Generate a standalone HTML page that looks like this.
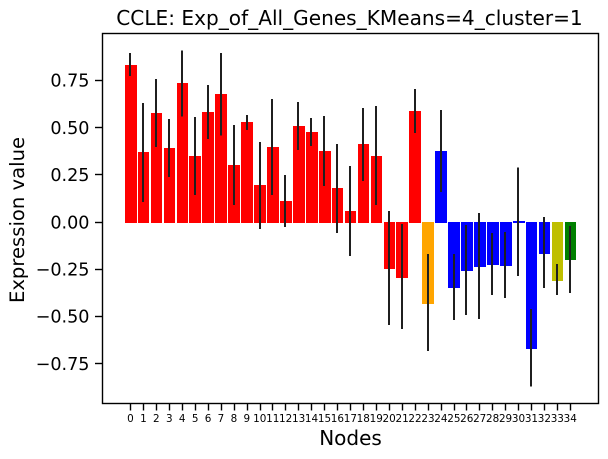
<!DOCTYPE html>
<html lang="en">
<head>
<meta charset="utf-8">
<title>CCLE chart</title>
<style>
html,body{margin:0;padding:0;background:#fff;width:608px;height:459px;overflow:hidden}
svg{display:block}
text{font-family:"DejaVu Sans","Liberation Sans",sans-serif;fill:#000}
</style>
</head>
<body>
<svg id="chart" width="608" height="459" viewBox="0 0 608 459" xmlns="http://www.w3.org/2000/svg">
<rect x="102" y="33" width="497" height="370" fill="#fff"/>
<g id="bars"></g>
<g id="errors"></g>
<rect x="102.5" y="33.5" width="496" height="370" fill="none" stroke="#000" stroke-width="1.4"/>
<g id="xticks"></g>
<g id="yticks"></g>
<text x="349.5" y="25" font-size="20.1" text-anchor="middle">CCLE: Exp_of_All_Genes_KMeans=4_cluster=1</text>
<text x="350.5" y="445" font-size="20" text-anchor="middle">Nodes</text>
<text x="0" y="0" font-size="19.6" text-anchor="middle" transform="translate(24,220) rotate(-90)">Expression value</text>
</svg>
<script>
const nodes = [0,1,2,3,4,5,6,7,8,9,10,11,12,13,14,15,16,17,18,19,20,21,22,23,24,25,26,27,28,29,30,31,32,33,34];
const values = [0.83,0.37,0.577,0.39,0.736,0.35,0.583,0.678,0.30,0.53,0.196,0.397,0.111,0.508,0.477,0.376,0.18,0.058,0.413,0.35,-0.249,-0.297,0.588,-0.434,0.376,-0.35,-0.26,-0.238,-0.228,-0.233,0.006,-0.673,-0.17,-0.313,-0.2];
const errorHigh = [0.895,0.63,0.757,0.545,0.91,0.556,0.726,0.895,0.514,0.567,0.424,0.651,0.249,0.636,0.551,0.561,0.413,0.297,0.604,0.614,0.058,-0.01,0.704,-0.17,0.593,-0.17,-0.016,0.048,-0.058,-0.053,0.29,-0.46,0.026,-0.222,-0.02];
const errorLow = [0.775,0.106,0.397,0.238,0.56,0.143,0.44,0.46,0.09,0.487,-0.037,0.143,-0.026,0.381,0.403,0.191,-0.058,-0.18,0.217,0.09,-0.546,-0.567,0.471,-0.683,0.159,-0.519,-0.493,-0.514,-0.387,-0.403,-0.286,-0.87,-0.35,-0.387,-0.376];
const groups = ['r','r','r','r','r','r','r','r','r','r','r','r','r','r','r','r','r','r','r','r','r','r','r','o','b','b','b','b','b','b','b','b','b','y','g'];
const yTickValues = [0.75,0.5,0.25,0,-0.25,-0.5,-0.75];
const yTickLabels = ['0.75','0.50','0.25','0.00','\u22120.25','\u22120.50','\u22120.75'];

const NS = 'http://www.w3.org/2000/svg';
const groupColor = {r:'#ff0000',o:'#ffa500',b:'#0000ff',y:'#bfbf00',g:'#008000'};
const xScale = function(n){ return 130.65 + 12.935 * n; };
const yScale = function(v){ return 222.1 - 188.8 * v; };
const barWidth = 11.7;

function make(tag, attrs, parent){
  const el = document.createElementNS(NS, tag);
  Object.keys(attrs).forEach(function(k){ el.setAttribute(k, attrs[k]); });
  parent.appendChild(el);
  return el;
}

const barsG = document.getElementById('bars');
const errG = document.getElementById('errors');
nodes.forEach(function(n, i){
  const x0 = Math.round(xScale(n) - barWidth / 2);
  const x1 = Math.round(xScale(n) + barWidth / 2);
  const yA = values[i] >= 0 ? Math.round(yScale(values[i])) : 222;
  const yB = values[i] >= 0 ? 223 : Math.round(yScale(values[i]));
  const bar = make('rect', {x:x0, y:yA, width:x1 - x0, height:yB - yA, fill:groupColor[groups[i]], 'shape-rendering':'crispEdges'}, barsG);
  
  

  const ex = Math.floor(xScale(n));
  const err = make('line', {x1:ex, x2:ex, y1:yScale(errorHigh[i]), y2:yScale(errorLow[i]), stroke:'#1f1f1f', 'stroke-width':2, 'shape-rendering':'crispEdges'}, errG);
  
  
});

const xG = document.getElementById('xticks');
nodes.forEach(function(n){
  const x = Math.floor(xScale(n)) + 0.5;
  const t = make('line', {x1:x, x2:x, y1:404, y2:410.5, stroke:'#000', 'stroke-width':1.4}, xG);
  
  
  const l = make('text', {x:xScale(n) - 0.2, y:422, 'font-size':10.4, 'text-anchor':'middle'}, xG);
  l.textContent = String(n);
  
  
});

const yG = document.getElementById('yticks');
yTickValues.forEach(function(v, i){
  const y = Math.floor(yScale(v)) + 0.5;
  const t = make('line', {x1:95, x2:102, y1:y, y2:y, stroke:'#000', 'stroke-width':1.4}, yG);
  
  
  const l = make('text', {x:89.5, y:yScale(v) + 6.2, 'font-size':17.6, 'text-anchor':'end'}, yG);
  l.textContent = yTickLabels[i];
  
  
});
</script>
</body>
</html>
